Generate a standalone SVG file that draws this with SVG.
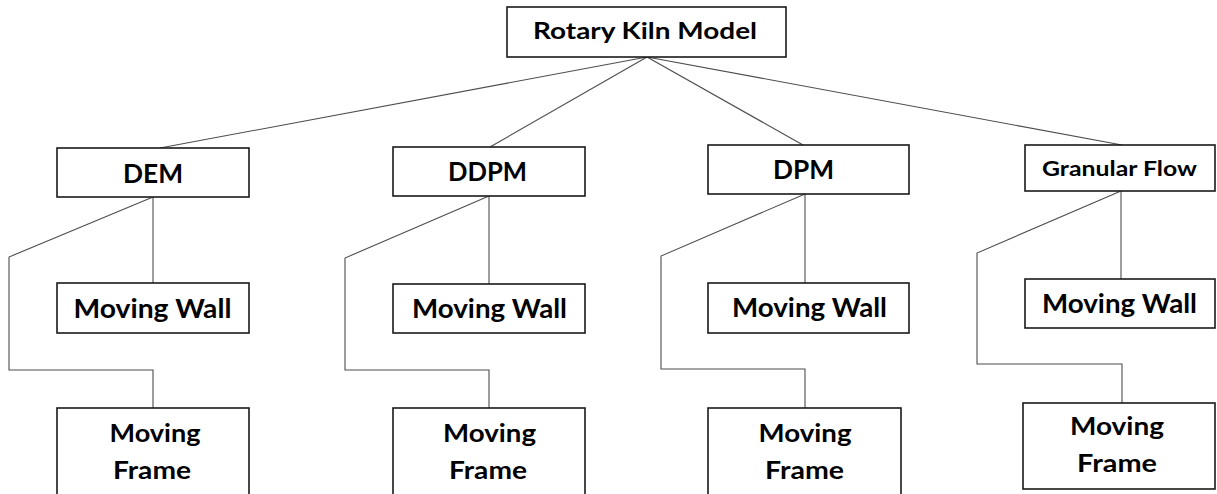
<svg xmlns="http://www.w3.org/2000/svg" width="1217" height="494" viewBox="0 0 1217 494">
  <style>
    .box { fill: #ffffff; stroke: #1a1a1a; stroke-width: 1.6; }
    .lbl { font-family: Lato, "Open Sans", "Liberation Sans", sans-serif; font-weight: bold; fill: #000000; text-anchor: middle; }
    .link { fill: none; stroke: #4d4d4d; stroke-width: 1.1; }
  </style>
  <rect width="1217" height="494" fill="#ffffff"/>

  <!-- connectors -->
  <g id="connectors">
    <!-- root to models -->
    <line class="link" x1="647" y1="57" x2="160" y2="148"/>
    <line class="link" x1="647" y1="57" x2="490" y2="147"/>
    <line class="link" x1="647" y1="57" x2="803" y2="145"/>
    <line class="link" x1="647" y1="57" x2="1122" y2="145"/>
    <!-- DEM -->
    <line class="link" x1="153" y1="197" x2="153" y2="283"/>
    <polyline class="link" points="153,197 9,257 9,370 153,370 153,408"/>
    <!-- DDPM -->
    <line class="link" x1="489" y1="196" x2="489" y2="284"/>
    <polyline class="link" points="489,196 345,258 345,370 489,370 489,408"/>
    <!-- DPM -->
    <line class="link" x1="805" y1="194" x2="805" y2="283"/>
    <polyline class="link" points="805,194 661,256 661,369 805,369 805,408"/>
    <!-- Granular Flow -->
    <line class="link" x1="1121" y1="191" x2="1121" y2="279"/>
    <polyline class="link" points="1121,191 977,253 977,364 1122,364 1122,403"/>
  </g>

  <g id="root">
    <rect class="box" x="507" y="7" width="279" height="50"/>
    <text class="lbl" x="645" y="39" font-size="23" textLength="224" lengthAdjust="spacingAndGlyphs">Rotary Kiln Model</text>
  </g>

  <g id="dem">
    <rect class="box" x="57" y="148" width="192" height="49"/>
    <text class="lbl" x="153" y="183" font-size="26" textLength="60" lengthAdjust="spacingAndGlyphs">DEM</text>
  </g>
  <g id="ddpm">
    <rect class="box" x="393" y="147" width="192" height="49"/>
    <text class="lbl" x="487.5" y="181" font-size="26" textLength="79" lengthAdjust="spacingAndGlyphs">DDPM</text>
  </g>
  <g id="dpm">
    <rect class="box" x="708" y="145" width="201" height="49"/>
    <text class="lbl" x="803.5" y="179" font-size="26" textLength="61" lengthAdjust="spacingAndGlyphs">DPM</text>
  </g>
  <g id="granular-flow">
    <rect class="box" x="1025" y="145" width="190" height="46"/>
    <text class="lbl" x="1119.5" y="176" font-size="20" textLength="155" lengthAdjust="spacingAndGlyphs">Granular Flow</text>
  </g>

  <g id="dem-wall">
    <rect class="box" x="57" y="283" width="192" height="50"/>
    <text class="lbl" x="152.5" y="318" font-size="27" textLength="158" lengthAdjust="spacingAndGlyphs">Moving Wall</text>
  </g>
  <g id="ddpm-wall">
    <rect class="box" x="393" y="284" width="192" height="49"/>
    <text class="lbl" x="489.5" y="318" font-size="27" textLength="155" lengthAdjust="spacingAndGlyphs">Moving Wall</text>
  </g>
  <g id="dpm-wall">
    <rect class="box" x="708" y="283" width="201" height="50"/>
    <text class="lbl" x="809.5" y="317" font-size="27" textLength="155" lengthAdjust="spacingAndGlyphs">Moving Wall</text>
  </g>
  <g id="granular-wall">
    <rect class="box" x="1025" y="279" width="190" height="49"/>
    <text class="lbl" x="1119.5" y="313" font-size="27" textLength="155" lengthAdjust="spacingAndGlyphs">Moving Wall</text>
  </g>

  <g id="dem-frame">
    <rect class="box" x="57" y="408" width="192" height="92"/>
    <text class="lbl" x="155" y="442" font-size="25" textLength="91" lengthAdjust="spacingAndGlyphs">Moving</text>
    <text class="lbl" x="152" y="479" font-size="25" textLength="78" lengthAdjust="spacingAndGlyphs">Frame</text>
  </g>
  <g id="ddpm-frame">
    <rect class="box" x="393" y="408" width="192" height="92"/>
    <text class="lbl" x="489.5" y="442" font-size="25" textLength="93" lengthAdjust="spacingAndGlyphs">Moving</text>
    <text class="lbl" x="488" y="479" font-size="25" textLength="78" lengthAdjust="spacingAndGlyphs">Frame</text>
  </g>
  <g id="dpm-frame">
    <rect class="box" x="708" y="408" width="193" height="92"/>
    <text class="lbl" x="805" y="442" font-size="25" textLength="93" lengthAdjust="spacingAndGlyphs">Moving</text>
    <text class="lbl" x="804.5" y="479" font-size="25" textLength="79" lengthAdjust="spacingAndGlyphs">Frame</text>
  </g>
  <g id="granular-frame">
    <rect class="box" x="1023" y="403" width="192" height="86"/>
    <text class="lbl" x="1117" y="435" font-size="25" textLength="94" lengthAdjust="spacingAndGlyphs">Moving</text>
    <text class="lbl" x="1117" y="472" font-size="25" textLength="80" lengthAdjust="spacingAndGlyphs">Frame</text>
  </g>
</svg>
